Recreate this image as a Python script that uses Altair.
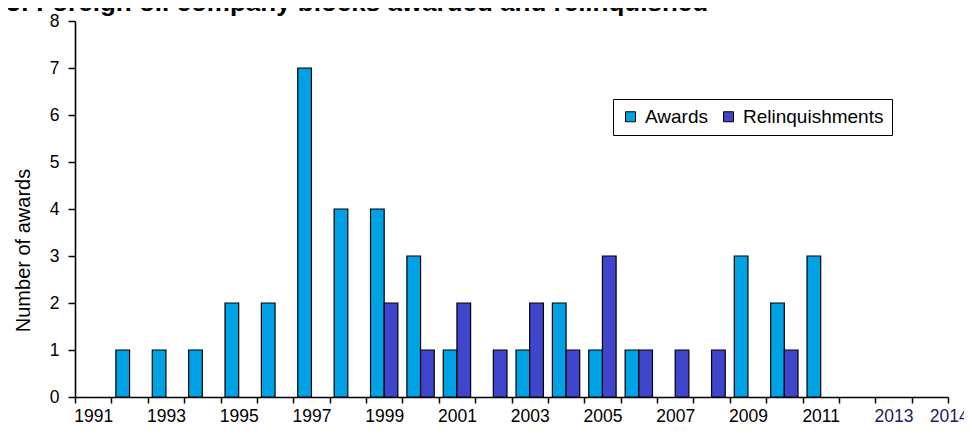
import altair as alt
import pandas as pd

# ---- data ----
years = [str(y) for y in range(1991, 2015)]
awards = [0, 1, 1, 1, 2, 2, 7, 4, 4, 3, 1, 0, 1, 2, 1, 1, 0, 0, 3, 2, 3, 0, 0, 0]
relinquishments = [0, 0, 0, 0, 0, 0, 0, 0, 2, 1, 2, 1, 2, 1, 3, 1, 1, 1, 0, 1, 0, 0, 0, 0]
series = ["Awards", "Relinquishments"]
colors = ["#00a2e6", "#4046cc"]
y_ticks = [0, 1, 2, 3, 4, 5, 6, 7, 8]
title_text = "3: Foreign oil company blocks awarded and relinquished"
y_title = "Number of awards"

rows = []
for yr, a, r in zip(years, awards, relinquishments):
    rows.append({"year": yr, "series": "Awards", "value": a})
    rows.append({"year": yr, "series": "Relinquishments", "value": r})
df = pd.DataFrame(rows)

W, H = 873, 376
FONT = "Liberation Sans"

bars = (
    alt.Chart(df)
    .transform_filter("datum.value > 0")
    .mark_bar(stroke="black", strokeWidth=1.2)
    .encode(
        x=alt.X(
            "year:N",
            sort=years,
            scale=alt.Scale(domain=years, paddingInner=0, paddingOuter=0),
            axis=alt.Axis(
                title=None,
                labelAngle=0,
                tickBand="extent",
                labelOverlap=False,
                labelExpr="(toNumber(datum.value) % 2 == 1 || datum.value == '2014') ? datum.value : ''",
                labelOffset={"condition": {"test": "datum.value == '2014'", "value": 19}, "value": 0},
                labelColor={"condition": {"test": "datum.value == '2014' || datum.value == '2013'", "value": "#1c1c5a"}, "value": "black"},
                labelFontSize=17.5,
                labelFont=FONT,
                labelPadding=4,
                tickSize=6,
                tickWidth=1.5,
                tickColor="black",
                domainColor="black",
                domainWidth=1.6,
            ),
        ),
        xOffset=alt.XOffset(
            "series:N",
            sort=series,
            scale=alt.Scale(domain=series, paddingInner=0, paddingOuter=0.33),
        ),
        y=alt.Y(
            "value:Q",
            scale=alt.Scale(domain=[0, 8], nice=False),
            axis=alt.Axis(
                values=y_ticks,
                title=y_title,
                titleFontSize=20,
                titleFont=FONT,
                titleFontWeight="normal",
                titleColor="black",
                titleX=-46,
                titleY=229,
                titleBaseline="alphabetic",
                labelFontSize=17.5,
                labelFont=FONT,
                labelColor="black",
                labelPadding=9,
                tickSize=7,
                tickWidth=1.5,
                tickColor="black",
                domainColor="black",
                domainWidth=1.6,
                grid=False,
            ),
        ),
        color=alt.Color(
            "series:N",
            sort=series,
            scale=alt.Scale(domain=series, range=colors),
            legend=alt.Legend(
                title=None,
                orient="none",
                legendX=538,
                legendY=78,
                direction="horizontal",
                strokeColor="black",
                fillColor="white",
                padding=8,
                symbolType="square",
                symbolSize=100,
                symbolStrokeColor="black",
                symbolStrokeWidth=1,
                symbolOpacity=1,
                labelFontSize=19,
                labelFont=FONT,
                labelColor="black",
                labelOffset=5,
                columnPadding=10,
            ),
        ),
    )
)

title_df = pd.DataFrame({"t": [title_text]})
title = (
    alt.Chart(title_df)
    .mark_text(
        align="left",
        baseline="alphabetic",
        font=FONT,
        fontSize=26,
        fontWeight="bold",
        color="black",
    )
    .encode(text="t:N", x=alt.value(-69), y=alt.value(-10))
)

chart = (
    alt.layer(bars, title)
    .properties(
        width=W,
        height=H,
        padding={"left": 67, "top": 13, "right": 16, "bottom": 31},
        autosize=alt.AutoSizeParams(type="none"),
        background="white",
    )
    .configure_view(stroke=None)
)

chart.save("out.html", embed_options={"renderer": "svg", "actions": False})
